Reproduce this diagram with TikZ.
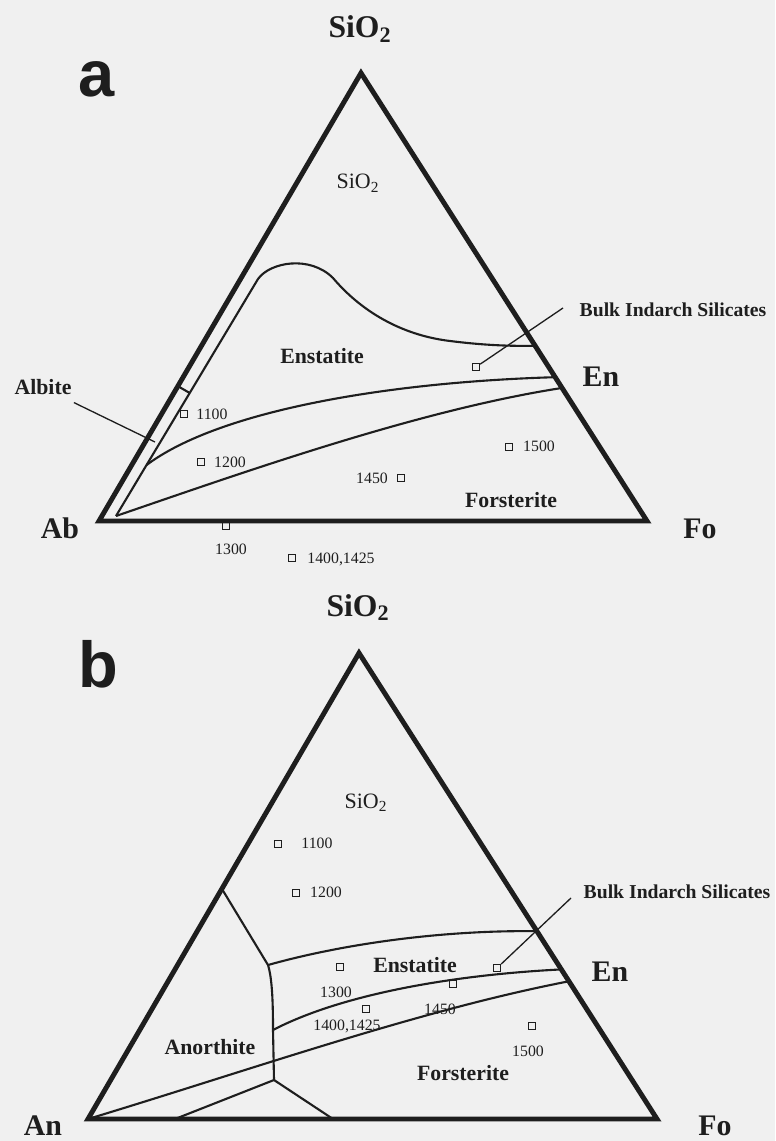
\documentclass[tikz,border=0pt]{standalone}
\usepackage{fontspec}
\setmainfont{Liberation Serif}
\newfontfamily\panelfont{Liberation Sans}
\usetikzlibrary{calc}
\definecolor{paper}{RGB}{240,240,240}
\definecolor{ink}{RGB}{30,30,30}
\tikzset{
  edge/.style={draw=ink, line width=2.8pt, line join=miter},
  bound/.style={draw=ink, line width=1.2pt},
  lead/.style={draw=ink, line width=0.75pt},
  samp/.style={draw=ink, rectangle, minimum size=4pt, inner sep=0pt, line width=0.7pt},
  corner/.style={text=ink, font=\fontsize{17}{17}\selectfont\bfseries, anchor=base, inner sep=0pt},
  apexlab/.style={text=ink, font=\fontsize{18}{18}\selectfont\bfseries, anchor=base, inner sep=0pt},
  phase/.style={text=ink, font=\fontsize{12.4}{12}\selectfont\bfseries, anchor=base, inner sep=0pt},
  field/.style={text=ink, font=\fontsize{12.5}{12}\selectfont, anchor=base, inner sep=0pt},
  bulk/.style={text=ink, font=\fontsize{11.2}{11}\selectfont\bfseries, anchor=base, inner sep=0pt},
  temp/.style={text=ink, font=\fontsize{9}{9}\selectfont, anchor=base, inner sep=0pt},
  panel/.style={text=ink, font=\panelfont\fontsize{37}{37}\selectfont\bfseries, anchor=base, inner sep=0pt}
}

\begin{document}
\begin{tikzpicture}[x=0.02cm,y=-0.02cm]
  \fill[paper] (0,0) rectangle (775,1141);
  \useasboundingbox (0,0) rectangle (775,1141);

  % ---- panel a : Ab - Fo - SiO2
  \coordinate (apexA) at (361,73);
  \coordinate (AbA) at (99,521);
  \coordinate (FoA) at (647,521);
  \coordinate (abi) at (116,516);
  \coordinate (domeL) at (258,279);
  \coordinate (domeR) at ($(apexA)!0.609!(FoA)$);
  \coordinate (efA) at ($(apexA)!0.679!(FoA)$);
  \coordinate (EnA) at ($(apexA)!0.703!(FoA)$);
  \coordinate (ef0) at ($(abi)!0.215!(domeL)$);

  \draw[edge] (AbA) -- (apexA) -- (FoA) -- cycle;
  \draw[bound] (abi) -- (domeL) .. controls (270,262) and (310,255) .. (333,278)
     .. controls (360,310) and (400,335) .. (450,341)
     .. controls (490,346) and (515,346) .. (domeR);
  \draw[bound] (ef0) .. controls (220,410) and (390,382) .. (efA);
  \draw[bound] (abi) .. controls (250,470) and (420,410) .. (EnA);
  \draw[bound] ($(apexA)!0.699!(AbA)$) -- ($(abi)!0.519!(domeL)$);

  \node[panel] (labA) at (97,97) {a};
  \node[apexlab] (SiA) at (360,38) {SiO\textsubscript{2}};
  \node[corner] (AbL) at (60,538) {Ab};
  \node[corner] (FoLA) at (700,538) {Fo};
  \node[corner] (EnLA) at (601,387) {En};
  \node[field] (SiFA) at (358,189) {SiO\textsubscript{2}};
  \node[phase] (EnsA) at (322,364) {Enstatite};
  \node[phase] (ForA) at (511,507) {Forsterite};
  \node[phase, inner sep=4pt] (albA) at (43,395) {Albite};
  \node[bulk] (bulkA) at (673,317) {Bulk Indarch Silicates};

  \node[samp] (sqA1100) at (184,414) {};
  \node[samp] (sqA1200) at (201,462) {};
  \node[samp] (sqA1300) at (226,526) {};
  \node[samp] (sqA1400) at (292,558) {};
  \node[samp] (sqA1450) at (401,478) {};
  \node[samp] (sqA1500) at (509,447) {};
  \node[samp] (sqBulkA) at (476,367) {};
  \node[temp] (tA1100) at (212,419) {1100};
  \node[temp] (tA1200) at (230,467) {1200};
  \node[temp] (tA1300) at (231,554) {1300};
  \node[temp] (tA1400) at (341,563) {1400,1425};
  \node[temp] (tA1450) at (372,483) {1450};
  \node[temp] (tA1500) at (539,451) {1500};

  \coordinate (albtipA) at (155,442);
  \coordinate (bulktipA) at (563,308);
  \draw[lead] (albA) -- (albtipA);
  \draw[lead] (sqBulkA) -- (bulktipA);

  % ---- panel b : An - Fo - SiO2
  \coordinate (apexB) at (359,653);
  \coordinate (AnB) at (88,1119);
  \coordinate (FoB) at (657,1119);
  \coordinate (anL) at ($(apexB)!0.506!(AnB)$);
  \coordinate (J1) at (268,965);
  \coordinate (J2) at (273,1030);
  \coordinate (J3) at (274,1080);
  \coordinate (seR) at ($(apexB)!0.597!(FoB)$);
  \coordinate (efB) at ($(apexB)!0.679!(FoB)$);
  \coordinate (EnB) at ($(apexB)!0.7045!(FoB)$);

  \draw[edge] (AnB) -- (apexB) -- (FoB) -- cycle;
  \draw[bound] (anL) -- (J1) .. controls (272,978) and (273,1000) .. (J2) -- (J3);
  \draw[bound] (J3) -- (175,1119);
  \draw[bound] (J3) -- (333,1119);
  \draw[bound] (J1) .. controls (350,942) and (450,930) .. (seR);
  \draw[bound] (J2) .. controls (340,995) and (450,975) .. (efB);
  \draw[bound] (AnB) .. controls (250,1070) and (420,1010) .. (EnB);

  \node[panel] (labB) at (98,687) {b};
  \node[apexlab] (SiB) at (358,616) {SiO\textsubscript{2}};
  \node[corner] (AnL) at (43,1135) {An};
  \node[corner] (FoLB) at (715,1135) {Fo};
  \node[corner] (EnLB) at (610,981) {En};
  \node[field] (SiFB) at (366,808) {SiO\textsubscript{2}};
  \node[phase] (EnsB) at (415,972) {Enstatite};
  \node[phase] (ForB) at (463,1080) {Forsterite};
  \node[phase] (AnoB) at (210,1054) {Anorthite};
  \node[bulk] (bulkB) at (677,898) {Bulk Indarch Silicates};

  \node[samp] (sqB1100) at (278,844) {};
  \node[samp] (sqB1200) at (296,893) {};
  \node[samp] (sqB1300) at (340,967) {};
  \node[samp] (sqB1400) at (366,1009) {};
  \node[samp] (sqB1450) at (453,984) {};
  \node[samp] (sqB1500) at (532,1026) {};
  \node[samp] (sqBulkB) at (497,968) {};
  \node[temp] (tB1100) at (317,848) {1100};
  \node[temp] (tB1200) at (326,897) {1200};
  \node[temp] (tB1300) at (336,997) {1300};
  \node[temp] (tB1400) at (347,1030) {1400,1425};
  \node[temp] (tB1450) at (440,1014) {1450};
  \node[temp] (tB1500) at (528,1056) {1500};

  \coordinate (bulktipB) at (571,898);
  \draw[lead] (sqBulkB) -- (bulktipB);
\end{tikzpicture}
\end{document}
